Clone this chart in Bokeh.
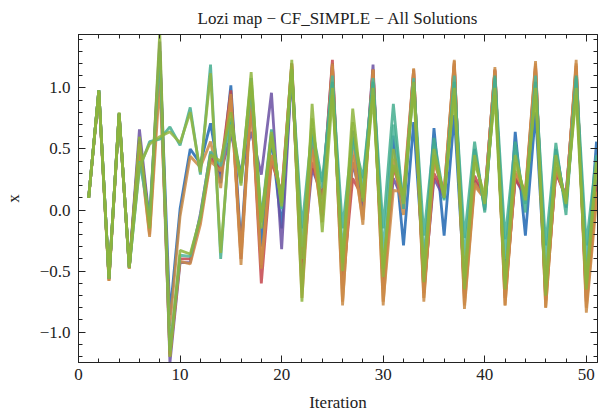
from bokeh.plotting import figure
from bokeh.models import Range1d, LinearAxis, SingleIntervalTicker, Title, CustomJSTickFormatter
from bokeh.embed import file_html
from bokeh.resources import INLINE

iterations = list(range(1, 52))

blue = [0.10, 0.98, -0.56, 0.79, -0.47, 0.58, -0.12, 1.30, -0.86, 0.01,
        0.50, 0.38, 0.71, 0.22, 1.02, -0.30, 0.94, -0.30, 0.59, -0.15,
        1.15, -0.55, 0.60, -0.05, 1.10, -0.60, 0.65, 0.00, 1.10, -0.60,
        0.61, -0.29, 0.72, -0.50, 0.67, -0.21, 0.78, -0.62, 0.50, 0.00,
        1.05, -0.60, 0.64, -0.21, 0.80, -0.65, 0.50, 0.02, 1.05, -0.60, 0.56]
orange1 = [0.10, 0.97, -0.58, 0.78, -0.48, 0.52, -0.22, 1.05, -0.95, -0.05,
           0.44, 0.35, 0.56, 0.18, 0.95, -0.45, 0.90, -0.48, 0.45, 0.10,
           1.18, -0.65, 0.56, -0.10, 1.20, -0.78, 0.55, -0.12, 1.15, -0.78,
           0.42, -0.04, 1.16, -0.75, 0.39, 0.15, 1.23, -0.81, 0.20, 0.09,
           1.17, -0.78, 0.30, 0.15, 1.22, -0.80, 0.35, 0.08, 1.23, -0.84, 0.07]
teal = [0.10, 0.98, -0.56, 0.79, -0.47, 0.34, 0.56, 0.58, 0.68, 0.53,
        0.84, 0.29, 1.19, -0.40, 0.75, 0.26, 1.08, -0.07, 0.66, 0.01,
        1.12, -0.15, 0.67, 0.23, 1.05, -0.15, 0.61, 0.26, 1.05, -0.15,
        0.87, 0.01, 1.05, -0.21, 0.59, 0.09, 1.05, -0.23, 0.56, -0.02,
        1.10, -0.24, 0.56, -0.02, 1.05, -0.29, 0.55, -0.04, 1.10, -0.29, 0.45]
red = [0.10, 0.97, -0.57, 0.79, -0.47, 0.56, -0.15, 1.30, -1.18, -0.40,
       -0.40, -0.08, 0.42, 0.34, 0.98, -0.40, 0.94, -0.60, 0.40, 0.14,
       1.20, -0.43, 0.39, 0.09, 1.23, -0.62, 0.26, 0.10, 1.15, -0.65,
       0.35, 0.10, 1.15, -0.68, 0.30, 0.13, 1.20, -0.72, 0.28, 0.10,
       1.15, -0.72, 0.26, 0.12, 1.18, -0.74, 0.31, 0.10, 1.18, -0.75, 0.20]
purple = [0.10, 0.98, -0.56, 0.79, -0.47, 0.66, -0.10, 1.38, -1.25, -0.43,
          -0.43, -0.03, 0.47, 0.30, 0.62, 0.31, 0.64, 0.29, 0.96, -0.32,
          1.14, -0.51, 0.34, 0.12, 1.20, -0.65, 0.39, 0.04, 1.19, -0.62,
          0.26, 0.07, 1.12, -0.65, 0.26, 0.10, 1.18, -0.70, 0.24, 0.12,
          1.14, -0.70, 0.26, 0.10, 1.16, -0.72, 0.31, 0.12, 1.16, -0.72, 0.25]
teal2 = [0.10, 0.98, -0.56, 0.79, -0.47, 0.40, -0.05, 1.30, -1.15, -0.37,
         -0.38, -0.05, 0.48, 0.36, 0.72, 0.22, 1.00, -0.10, 0.62, 0.05,
         1.15, -0.30, 0.62, 0.18, 1.10, -0.35, 0.58, 0.20, 1.08, -0.35,
         0.70, 0.05, 1.08, -0.40, 0.52, 0.08, 1.10, -0.40, 0.48, 0.02,
         1.08, -0.40, 0.48, 0.05, 1.10, -0.45, 0.48, 0.04, 1.08, -0.45, 0.40]
orange2 = [0.10, 0.96, -0.58, 0.78, -0.48, 0.54, -0.20, 1.20, -1.20, -0.42,
           -0.44, -0.12, 0.40, 0.32, 0.90, -0.35, 0.92, -0.45, 0.45, 0.12,
           1.20, -0.72, 0.50, -0.05, 1.18, -0.75, 0.45, -0.08, 1.15, -0.75,
           0.16, 0.15, 1.15, -0.72, 0.42, 0.15, 1.22, -0.78, 0.22, 0.10,
           1.15, -0.78, 0.32, 0.14, 1.20, -0.80, 0.35, 0.09, 1.20, -0.80, 0.15]
olive2 = [0.10, 0.98, -0.56, 0.79, -0.47, 0.36, 0.54, 0.60, 0.64, 0.55,
          0.80, 0.31, 1.12, -0.35, 0.70, 0.24, 1.05, -0.10, 0.64, 0.03,
          1.15, -0.40, 0.75, 0.00, 1.00, -0.50, 0.72, 0.10, 1.00, -0.55,
          0.50, 0.05, 1.05, -0.50, 0.50, 0.10, 1.00, -0.55, 0.45, 0.05,
          1.00, -0.60, 0.45, 0.08, 1.00, -0.60, 0.45, 0.05, 1.00, -0.60, 0.40]
olive = [0.10, 0.98, -0.56, 0.80, -0.47, 0.60, -0.15, 1.45, -1.20, -0.33,
         -0.36, -0.06, 0.45, 0.40, 0.80, 0.20, 1.13, -0.15, 0.60, 0.06,
         1.23, -0.75, 0.87, -0.18, 0.94, -0.43, 0.83, 0.07, 0.94, -0.48,
         0.37, 0.12, 1.00, -0.59, 0.45, 0.12, 0.94, -0.65, 0.39, 0.12,
         0.94, -0.65, 0.39, 0.12, 0.94, -0.70, 0.39, 0.07, 0.94, -0.65, 0.34]

series = [
    (blue, "#1f66b2"),
    (purple, "#6a50a2"),
    (red, "#c4454b"),
    (orange1, "#c98944"),
    (orange2, "#cc8a47"),
    (teal2, "#4fb59a"),
    (teal, "#44ad8e"),
    (olive2, "#93b53f"),
    (olive, "#8db43c"),
]

x_ticks_major = 10
y_ticks_major = 0.5
title_text = "Lozi map \u2212 CF_SIMPLE \u2212 All Solutions"

FONT = "'Liberation Serif', 'Times New Roman', serif"
INK = "#222222"

p = figure(width=611, height=416, output_backend="svg", toolbar_location=None,
           x_range=Range1d(0, 51.1), y_range=Range1d(-1.248, 1.437),
           x_axis_location=None, y_axis_location=None,
           min_border_left=78, min_border_right=14, min_border_top=34, min_border_bottom=54)

for ys, c in series:
    p.line(iterations, ys, line_color=c, line_width=2.8, line_alpha=0.85)

p.xgrid.visible = False
p.ygrid.visible = False
p.outline_line_color = INK
p.outline_line_width = 1
p.background_fill_color = "white"
p.border_fill_color = "white"

blank = CustomJSTickFormatter(code="return '';")


def style_axis(ax, show_labels):
    ax.major_tick_in = 7
    ax.major_tick_out = 0
    ax.minor_tick_in = 4
    ax.minor_tick_out = 0
    ax.axis_line_color = INK
    ax.major_tick_line_color = INK
    ax.minor_tick_line_color = INK
    ax.major_label_text_font = FONT
    ax.major_label_text_font_size = "17px"
    ax.major_label_text_color = INK
    ax.axis_label_text_font = FONT
    ax.axis_label_text_font_size = "17px"
    ax.axis_label_text_font_style = "normal"
    ax.axis_label_text_color = INK
    if not show_labels:
        ax.formatter = blank
        ax.major_label_standoff = 0
        ax.major_label_text_font_size = "1px"


xb = LinearAxis(ticker=SingleIntervalTicker(interval=x_ticks_major, num_minor_ticks=5),
                axis_label="Iteration")
style_axis(xb, True)
xb.major_label_standoff = 6
xb.axis_label_standoff = 10
p.add_layout(xb, "below")

xt = LinearAxis(ticker=SingleIntervalTicker(interval=x_ticks_major, num_minor_ticks=5))
style_axis(xt, False)
p.add_layout(xt, "above")

yl = LinearAxis(ticker=SingleIntervalTicker(interval=y_ticks_major, num_minor_ticks=5),
                axis_label="x",
                formatter=CustomJSTickFormatter(code="return tick.toFixed(1).replace('-', '\\u2212');"))
style_axis(yl, True)
yl.major_label_standoff = 8
yl.axis_label_standoff = 14
p.add_layout(yl, "left")

yr = LinearAxis(ticker=SingleIntervalTicker(interval=y_ticks_major, num_minor_ticks=5))
style_axis(yr, False)
p.add_layout(yr, "right")

title = Title(text=title_text, align="center",
              text_font=FONT, text_font_size="17px", text_font_style="normal",
              text_color=INK, offset=0, standoff=13)
p.add_layout(title, "above")

open("out.html", "w").write(file_html(p, INLINE))
